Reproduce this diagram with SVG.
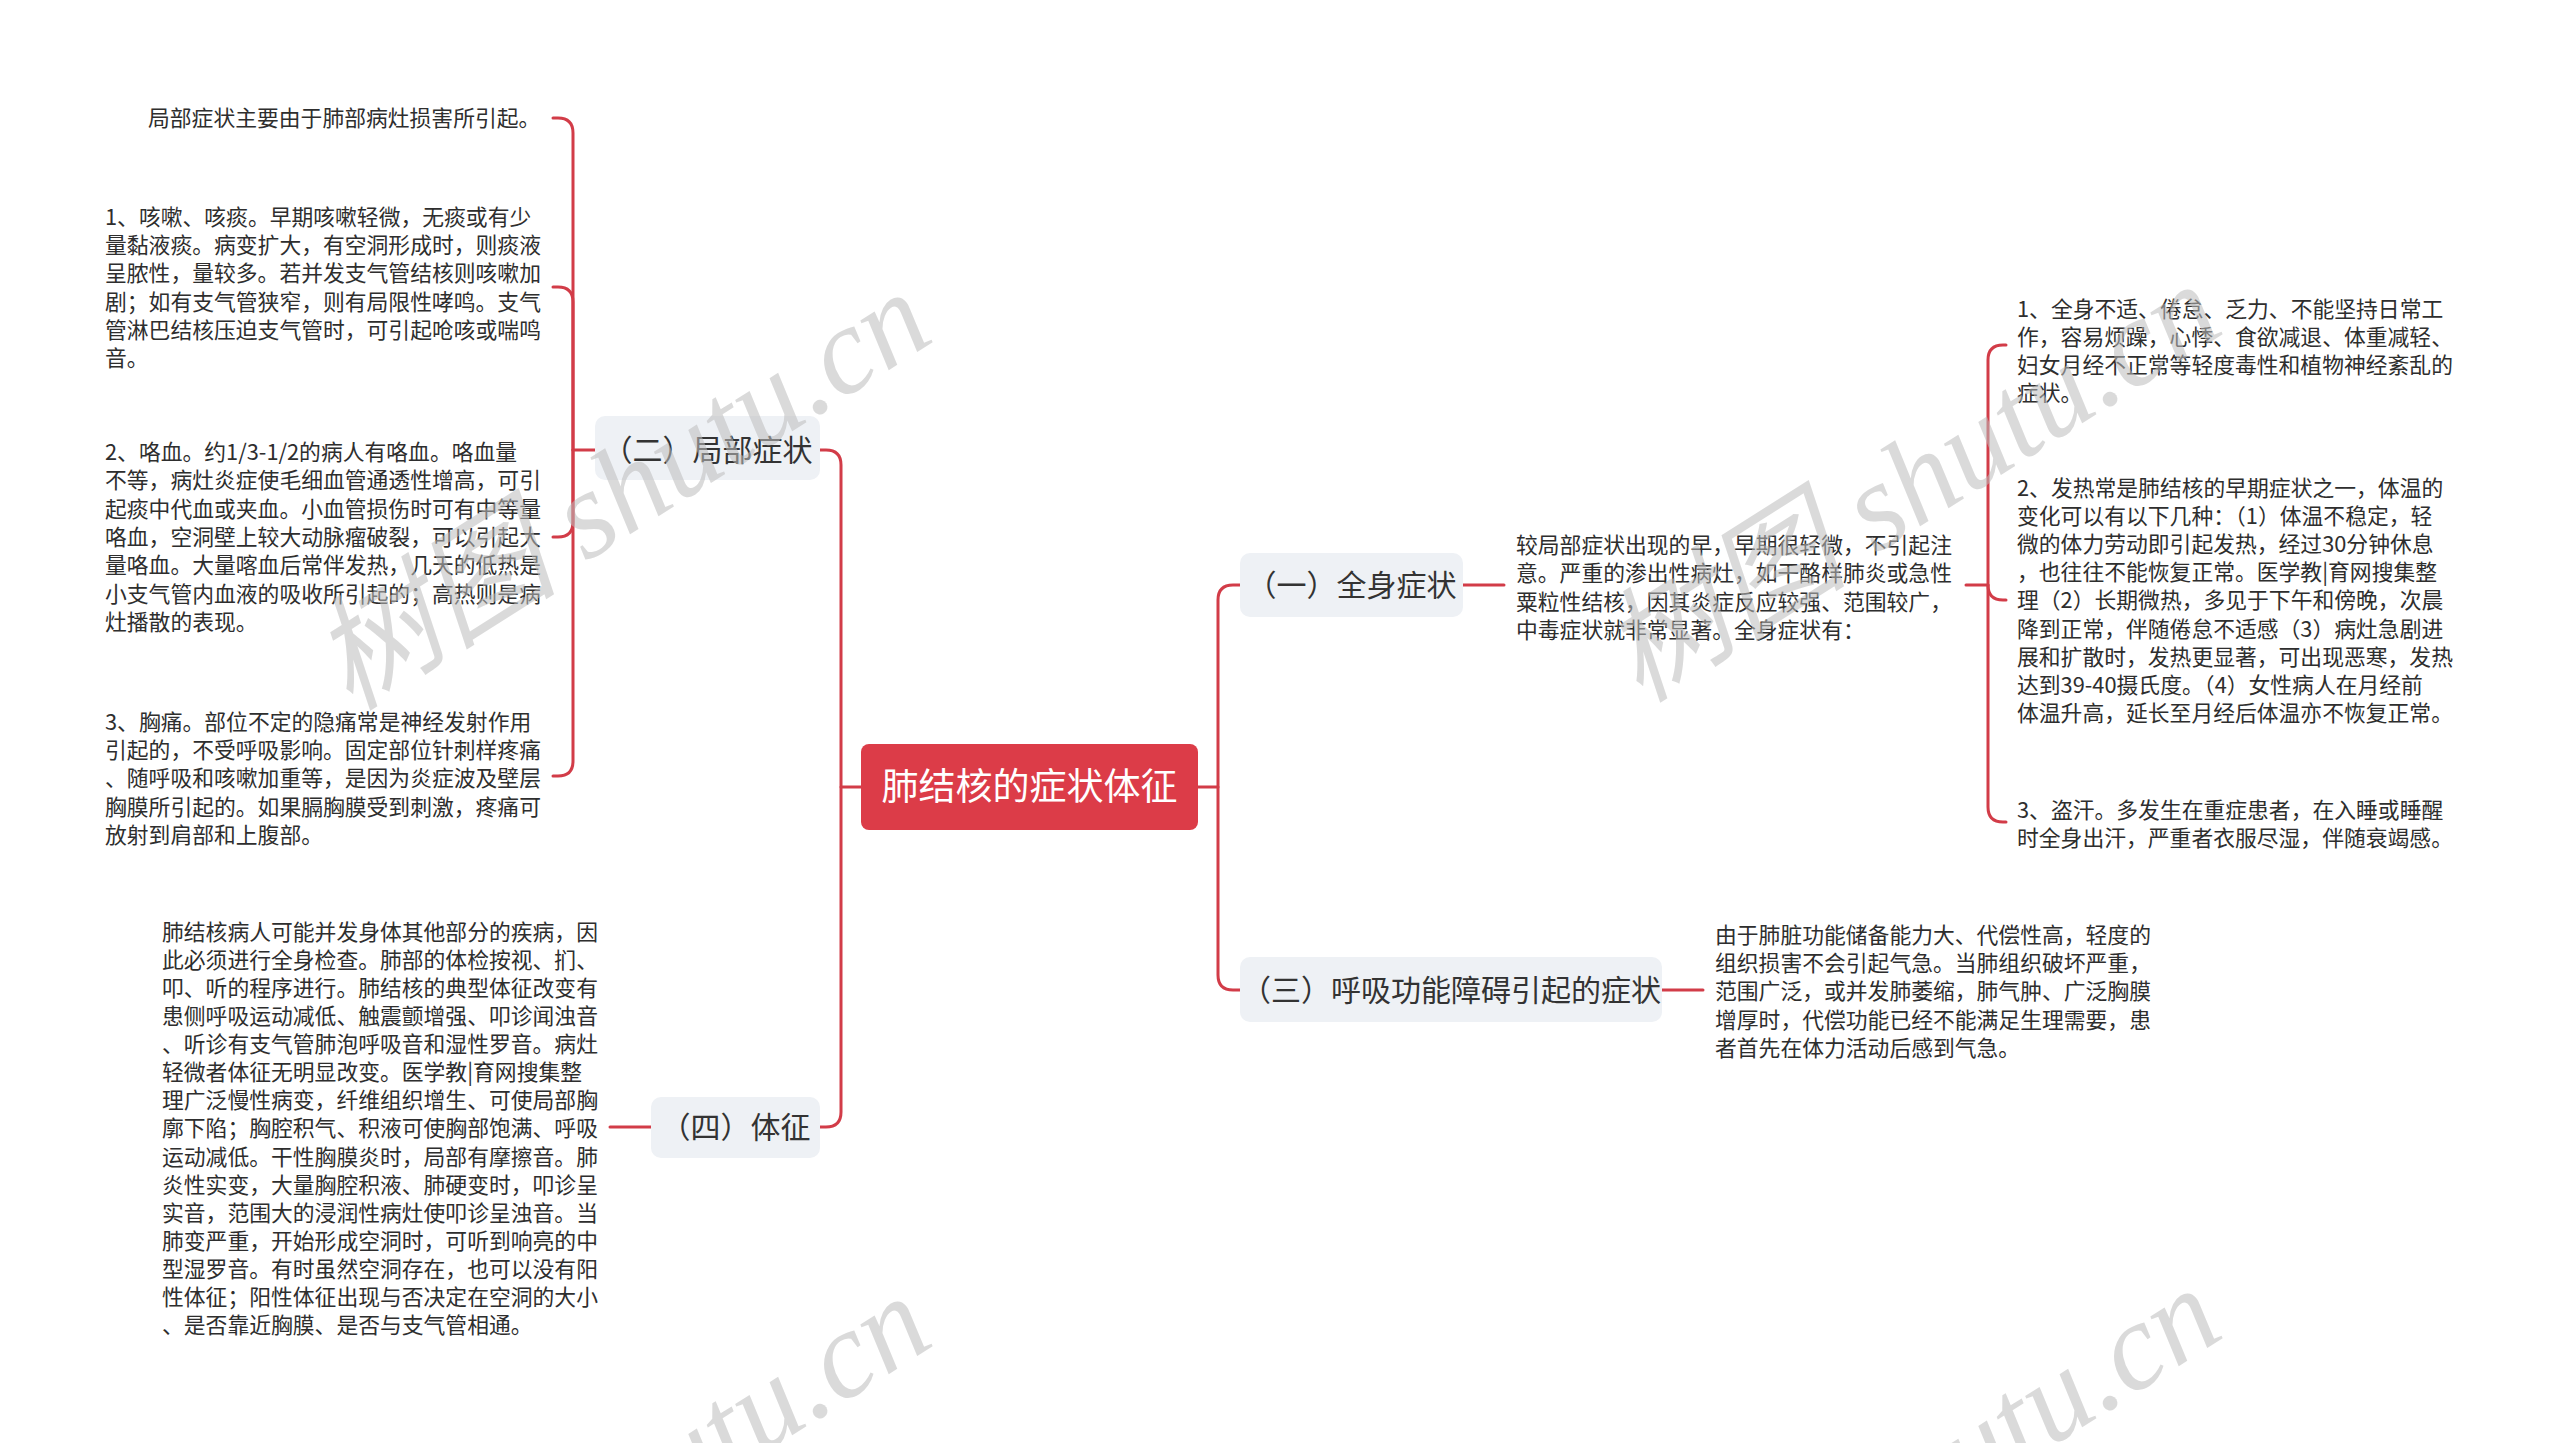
<svg xmlns="http://www.w3.org/2000/svg" width="2560" height="1443" viewBox="0 0 2560 1443">
<style>
.bg{fill:#ffffff}
.ln{fill:none;stroke:#d23c48;stroke-width:3;stroke-linecap:round;stroke-linejoin:round}
.root{fill:#dc3c48}
.rtx{font-family:"Noto Sans CJK SC","Noto Sans",sans-serif;font-size:37px;fill:#ffffff;text-anchor:middle}
.box{fill:#eef1f5}
.btx{font-family:"Noto Sans CJK SC","Noto Sans",sans-serif;font-size:30px;fill:#333333;text-anchor:middle}
.tx{font-family:"Noto Sans CJK SC","Noto Sans",sans-serif;font-size:21.8px;fill:#2e2e2e}
.wm{font-family:"Liberation Serif","Noto Sans CJK SC",serif;font-size:124px;font-style:italic;fill:#bdbdbd;opacity:0.55}
</style>
<rect class="bg" x="0" y="0" width="2560" height="1443"/>

<g id="connectors">
  <path class="ln" d="M861,787 H841 V465 Q841,450 826,450 H820"/>
  <path class="ln" d="M841,787 V1112 Q841,1127 826,1127 H820"/>
  <path class="ln" d="M1198,787 H1218 V600 Q1218,585 1233,585 H1240"/>
  <path class="ln" d="M1218,787 V975 Q1218,990 1233,990 H1240"/>
  <path class="ln" d="M595,450 H573 V133 Q573,118 558,118 H553"/>
  <path class="ln" d="M573,450 V302 Q573,287 558,287 H553"/>
  <path class="ln" d="M573,450 V522 Q573,537 558,537 H553"/>
  <path class="ln" d="M573,450 V761 Q573,776 558,776 H553"/>
  <path class="ln" d="M651,1127 H610"/>
  <path class="ln" d="M1463,585 H1504"/>
  <path class="ln" d="M1966,585 H1988 V360 Q1988,345 2003,345 H2006"/>
  <path class="ln" d="M1988,585 Q1988,600 2003,600 H2006"/>
  <path class="ln" d="M1988,585 V807 Q1988,822 2003,822 H2006"/>
  <path class="ln" d="M1662,990 H1703"/>
</g>

<g id="root">
  <rect class="root" x="861" y="744" width="337" height="86" rx="8"/>
  <text class="rtx" x="1029.5" y="800">肺结核的症状体征</text>
</g>

<g id="b2">
  <rect class="box" x="595" y="416" width="225" height="64" rx="10"/>
  <text class="btx" x="707.5" y="461">（二）局部症状</text>
</g>
<g id="b4">
  <rect class="box" x="651" y="1097" width="169" height="61" rx="10"/>
  <text class="btx" x="735.5" y="1138">（四）体征</text>
</g>
<g id="b1">
  <rect class="box" x="1240" y="553" width="223" height="64" rx="10"/>
  <text class="btx" x="1351.5" y="596">（一）全身症状</text>
</g>
<g id="b3">
  <rect class="box" x="1240" y="957" width="422" height="65" rx="10"/>
  <text class="btx" x="1451" y="1001">（三）呼吸功能障碍引起的症状</text>
</g>

<g id="l0">
  <text class="tx" x="148" y="126">局部症状主要由于肺部病灶损害所引起。</text>
</g>
<g id="l1">
  <text class="tx">
    <tspan x="105" y="225">1、咳嗽、咳痰。早期咳嗽轻微，无痰或有少</tspan>
    <tspan x="105" y="253.2">量黏液痰。病变扩大，有空洞形成时，则痰液</tspan>
    <tspan x="105" y="281.4">呈脓性，量较多。若并发支气管结核则咳嗽加</tspan>
    <tspan x="105" y="309.6">剧；如有支气管狭窄，则有局限性哮鸣。支气</tspan>
    <tspan x="105" y="337.8">管淋巴结核压迫支气管时，可引起呛咳或喘鸣</tspan>
    <tspan x="105" y="366">音。</tspan>
  </text>
</g>
<g id="l2">
  <text class="tx">
    <tspan x="105" y="460">2、咯血。约1/3-1/2的病人有咯血。咯血量</tspan>
    <tspan x="105" y="488.3">不等，病灶炎症使毛细血管通透性增高，可引</tspan>
    <tspan x="105" y="516.6">起痰中代血或夹血。小血管损伤时可有中等量</tspan>
    <tspan x="105" y="544.9">咯血，空洞壁上较大动脉瘤破裂，可以引起大</tspan>
    <tspan x="105" y="573.2">量咯血。大量喀血后常伴发热，几天的低热是</tspan>
    <tspan x="105" y="601.5">小支气管内血液的吸收所引起的；高热则是病</tspan>
    <tspan x="105" y="629.8">灶播散的表现。</tspan>
  </text>
</g>
<g id="l3">
  <text class="tx">
    <tspan x="105" y="730">3、胸痛。部位不定的隐痛常是神经发射作用</tspan>
    <tspan x="105" y="758.2">引起的，不受呼吸影响。固定部位针刺样疼痛</tspan>
    <tspan x="105" y="786.4">、随呼吸和咳嗽加重等，是因为炎症波及壁层</tspan>
    <tspan x="105" y="814.6">胸膜所引起的。如果膈胸膜受到刺激，疼痛可</tspan>
    <tspan x="105" y="842.8">放射到肩部和上腹部。</tspan>
  </text>
</g>
<g id="l4">
  <text class="tx">
    <tspan x="162" y="940">肺结核病人可能并发身体其他部分的疾病，因</tspan>
    <tspan x="162" y="968.07">此必须进行全身检查。肺部的体检按视、扪、</tspan>
    <tspan x="162" y="996.14">叩、听的程序进行。肺结核的典型体征改变有</tspan>
    <tspan x="162" y="1024.21">患侧呼吸运动减低、触震颤增强、叩诊闻浊音</tspan>
    <tspan x="162" y="1052.28">、听诊有支气管肺泡呼吸音和湿性罗音。病灶</tspan>
    <tspan x="162" y="1080.35">轻微者体征无明显改变。医学教|育网搜集整</tspan>
    <tspan x="162" y="1108.42">理广泛慢性病变，纤维组织增生、可使局部胸</tspan>
    <tspan x="162" y="1136.49">廓下陷；胸腔积气、积液可使胸部饱满、呼吸</tspan>
    <tspan x="162" y="1164.56">运动减低。干性胸膜炎时，局部有摩擦音。肺</tspan>
    <tspan x="162" y="1192.63">炎性实变，大量胸腔积液、肺硬变时，叩诊呈</tspan>
    <tspan x="162" y="1220.7">实音，范围大的浸润性病灶使叩诊呈浊音。当</tspan>
    <tspan x="162" y="1248.77">肺变严重，开始形成空洞时，可听到响亮的中</tspan>
    <tspan x="162" y="1276.84">型湿罗音。有时虽然空洞存在，也可以没有阳</tspan>
    <tspan x="162" y="1304.91">性体征；阳性体征出现与否决定在空洞的大小</tspan>
    <tspan x="162" y="1332.98">、是否靠近胸膜、是否与支气管相通。</tspan>
  </text>
</g>

<g id="r0">
  <text class="tx">
    <tspan x="1516" y="553">较局部症状出现的早，早期很轻微，不引起注</tspan>
    <tspan x="1516" y="581.3">意。严重的渗出性病灶，如干酪样肺炎或急性</tspan>
    <tspan x="1516" y="609.6">粟粒性结核，因其炎症反应较强、范围较广，</tspan>
    <tspan x="1516" y="637.9">中毒症状就非常显著。全身症状有：</tspan>
  </text>
</g>
<g id="r1">
  <text class="tx">
    <tspan x="2017" y="317">1、全身不适、倦怠、乏力、不能坚持日常工</tspan>
    <tspan x="2017" y="345">作，容易烦躁，心悸、食欲减退、体重减轻、</tspan>
    <tspan x="2017" y="373">妇女月经不正常等轻度毒性和植物神经紊乱的</tspan>
    <tspan x="2017" y="401">症状。</tspan>
  </text>
</g>
<g id="r2">
  <text class="tx">
    <tspan x="2017" y="496">2、发热常是肺结核的早期症状之一，体温的</tspan>
    <tspan x="2017" y="524.1">变化可以有以下几种：（1）体温不稳定，轻</tspan>
    <tspan x="2017" y="552.2">微的体力劳动即引起发热，经过30分钟休息</tspan>
    <tspan x="2017" y="580.3">，也往往不能恢复正常。医学教|育网搜集整</tspan>
    <tspan x="2017" y="608.4">理（2）长期微热，多见于下午和傍晚，次晨</tspan>
    <tspan x="2017" y="636.5">降到正常，伴随倦怠不适感（3）病灶急剧进</tspan>
    <tspan x="2017" y="664.6">展和扩散时，发热更显著，可出现恶寒，发热</tspan>
    <tspan x="2017" y="692.7">达到39-40摄氏度。（4）女性病人在月经前</tspan>
    <tspan x="2017" y="720.8">体温升高，延长至月经后体温亦不恢复正常。</tspan>
  </text>
</g>
<g id="r3">
  <text class="tx">
    <tspan x="2017" y="818">3、盗汗。多发生在重症患者，在入睡或睡醒</tspan>
    <tspan x="2017" y="846">时全身出汗，严重者衣服尽湿，伴随衰竭感。</tspan>
  </text>
</g>
<g id="r4">
  <text class="tx">
    <tspan x="1715" y="943">由于肺脏功能储备能力大、代偿性高，轻度的</tspan>
    <tspan x="1715" y="971.2">组织损害不会引起气急。当肺组织破坏严重，</tspan>
    <tspan x="1715" y="999.4">范围广泛，或并发肺萎缩，肺气肿、广泛胸膜</tspan>
    <tspan x="1715" y="1027.6">增厚时，代偿功能已经不能满足生理需要，患</tspan>
    <tspan x="1715" y="1055.8">者首先在体力活动后感到气急。</tspan>
  </text>
</g>

<g id="watermarks">
  <text class="wm" transform="translate(350,712) rotate(-32.4)">树图 shutu.cn</text>
  <text class="wm" transform="translate(1640,704) rotate(-32.4)">树图 shutu.cn</text>
  <text class="wm" transform="translate(350,1716) rotate(-32.4)">树图 shutu.cn</text>
  <text class="wm" transform="translate(1640,1708) rotate(-32.4)">树图 shutu.cn</text>
</g>
</svg>
